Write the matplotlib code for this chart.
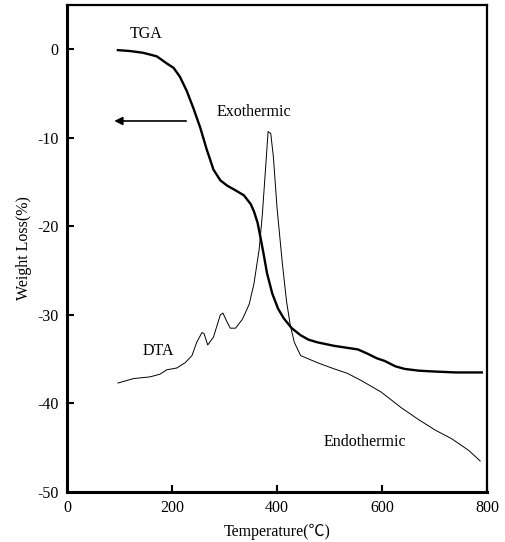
import matplotlib
matplotlib.use("Agg")
import matplotlib.pyplot as plt
from matplotlib.ticker import FuncFormatter

plt.rcParams['font.family'] = ['Liberation Serif', 'Noto Sans CJK JP', 'DejaVu Serif']

# Thermogravimetric curve (weight loss, %)
tga_temp = [97, 120, 145, 171, 190, 203, 215, 228, 241, 254, 266, 279, 292, 305, 320,
            337, 350, 356, 363, 369, 375, 381, 391, 402, 413, 428, 445, 460, 477, 509,
            554, 573, 590, 605, 625, 643, 670, 701, 740, 790]
tga_loss = [-0.1, -0.2, -0.4, -0.8, -1.6, -2.1, -3.1, -4.7, -6.7, -8.9, -11.3, -13.6,
            -14.8, -15.4, -15.9, -16.5, -17.5, -18.3, -19.6, -21.4, -23.3, -25.3, -27.6,
            -29.3, -30.4, -31.5, -32.3, -32.8, -33.1, -33.5, -33.9, -34.4, -34.9, -35.2,
            -35.8, -36.1, -36.3, -36.4, -36.5, -36.5]

# Differential thermal analysis trace (same axes)
dta_temp = [97, 126, 158, 177, 190, 209, 225, 238, 247, 257, 261, 268, 279, 292, 297,
            304, 311, 321, 334, 347, 356, 366, 372, 378, 383, 388, 393, 400, 410, 418,
            425, 433, 445, 477, 509, 534, 560, 598, 637, 669, 701, 733, 765, 787]
dta_val = [-37.7, -37.2, -37.0, -36.7, -36.2, -36.0, -35.4, -34.6, -33.1, -32.0, -32.1,
           -33.4, -32.5, -30.0, -29.8, -30.7, -31.5, -31.5, -30.5, -28.8, -26.5, -22.6,
           -18.7, -13.6, -9.3, -9.5, -12.1, -17.9, -24.1, -28.4, -31.1, -33.1, -34.6,
           -35.4, -36.1, -36.6, -37.4, -38.7, -40.5, -41.8, -43.0, -44.0, -45.3, -46.5]

x_ticks = [0, 200, 400, 600, 800]
y_ticks = [0, -10, -20, -30, -40, -50]

fig = plt.figure(figsize=(5.05, 5.42), dpi=100)
ax = fig.add_axes([0.1327, 0.0923, 0.8317, 0.8985])

ax.plot(tga_temp, tga_loss, color='black', lw=1.7, solid_joinstyle='round')
ax.plot(dta_temp, dta_val, color='black', lw=0.7)

ax.set_xlim(0, 800)
ax.set_ylim(-50, 5)
ax.set_xticks(x_ticks)
ax.set_yticks(y_ticks)
ax.yaxis.set_major_formatter(FuncFormatter(lambda v, p: f"{int(v)}".replace('\u2212', '-')))
ax.tick_params(direction='in', length=5, width=1.5, labelsize=11.5, pad=6)

for side in ['left', 'bottom']:
    ax.spines[side].set_linewidth(2.2)
for side in ['top', 'right']:
    ax.spines[side].set_linewidth(1.6)

ax.set_xlabel('Temperature(\u2103)', fontsize=11.5, labelpad=5)
ax.set_ylabel('Weight Loss(%)', fontsize=11.5, labelpad=4)

ax.text(151, 1.7, 'TGA', ha='center', va='center', fontsize=11.5)
ax.text(356, -7.1, 'Exothermic', ha='center', va='center', fontsize=11.5)
ax.text(174, -34.1, 'DTA', ha='center', va='center', fontsize=11.5)
ax.text(567, -44.4, 'Endothermic', ha='center', va='center', fontsize=11.5)

ax.annotate('', xy=(90, -8.1), xytext=(227, -8.1),
            arrowprops=dict(arrowstyle='-|>', color='black', lw=1.2,
                            mutation_scale=12, shrinkA=0, shrinkB=0))

fig.savefig('out.png', dpi=100)
